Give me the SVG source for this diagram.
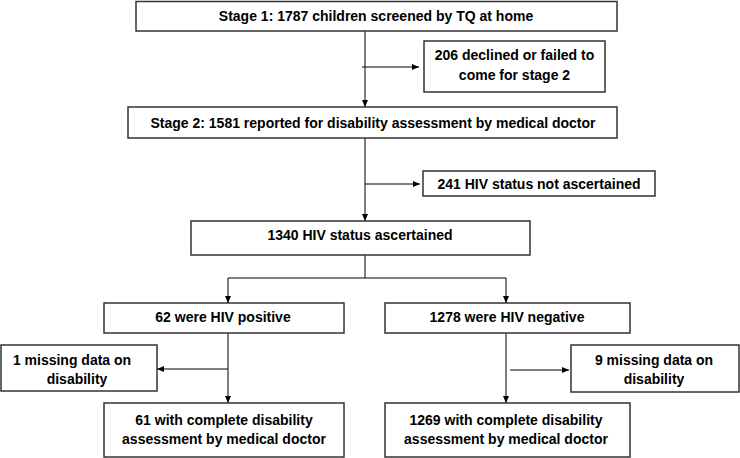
<svg xmlns="http://www.w3.org/2000/svg" width="740" height="458" viewBox="0 0 740 458">
<style>
.box{fill:#fff;stroke:#333;stroke-width:1.5}
.t{font-family:"Liberation Sans",Arial,sans-serif;font-weight:bold;font-size:14px;fill:#000;text-anchor:middle}
.c{fill:none;stroke:#000;stroke-width:1}
</style>
<defs>
<marker id="ah" markerUnits="userSpaceOnUse" markerWidth="7" markerHeight="6" refX="7" refY="3" orient="auto">
<path d="M0,0 L7,3 L0,6 z" fill="#000"/>
</marker>
</defs>
<rect width="740" height="458" fill="#fff"/>
<g id="connectors">
<line class="c" x1="365" y1="31" x2="365" y2="107" marker-end="url(#ah)"/>
<line class="c" x1="362" y1="67" x2="419" y2="67" marker-end="url(#ah)"/>
<line class="c" x1="365" y1="138" x2="365" y2="221" marker-end="url(#ah)"/>
<line class="c" x1="365" y1="184" x2="420" y2="184" marker-end="url(#ah)"/>
<polyline class="c" points="365,255 365,278 228,278 228,303" marker-end="url(#ah)"/>
<polyline class="c" points="365,278 506,278 506,303" marker-end="url(#ah)"/>
<line class="c" x1="228" y1="333" x2="228" y2="403" marker-end="url(#ah)"/>
<line class="c" x1="228" y1="369" x2="157" y2="369" marker-end="url(#ah)"/>
<line class="c" x1="506" y1="333" x2="506" y2="403" marker-end="url(#ah)"/>
<line class="c" x1="510" y1="370" x2="569" y2="370" marker-end="url(#ah)"/>
</g>
<g id="n1"><rect class="box" x="136" y="1.5" width="481" height="29.5"/><text class="t" x="376" y="21">Stage 1: 1787 children screened by TQ at home</text></g>
<g id="n2"><rect class="box" x="424" y="41" width="181" height="51"/><text class="t" x="514.5" y="60">206 declined or failed to</text><text class="t" x="514.5" y="80">come for stage 2</text></g>
<g id="n3"><rect class="box" x="128" y="107" width="489" height="31"/><text class="t" x="373" y="128">Stage 2: 1581 reported for disability assessment by medical doctor</text></g>
<g id="n4"><rect class="box" x="423" y="171" width="232" height="25"/><text class="t" x="539" y="189">241 HIV status not ascertained</text></g>
<g id="n5"><rect class="box" x="191" y="221" width="339" height="34"/><text class="t" x="360" y="240">1340 HIV status ascertained</text></g>
<g id="n6"><rect class="box" x="104" y="303" width="240" height="30"/><text class="t" x="223" y="322">62 were HIV positive</text></g>
<g id="n7"><rect class="box" x="385" y="303" width="245" height="30"/><text class="t" x="507" y="322">1278 were HIV negative</text></g>
<g id="n8"><rect class="box" x="1" y="345" width="156" height="46"/><text class="t" x="72" y="365">1 missing data on</text><text class="t" x="77" y="384">disability</text></g>
<g id="n9"><rect class="box" x="571" y="345" width="168" height="47"/><text class="t" x="654" y="365">9 missing data on</text><text class="t" x="654" y="384">disability</text></g>
<g id="n10"><rect class="box" x="104" y="403" width="240" height="54"/><text class="t" x="224" y="425">61 with complete disability</text><text class="t" x="224" y="444">assessment by medical doctor</text></g>
<g id="n11"><rect class="box" x="385" y="403" width="245" height="54"/><text class="t" x="506" y="425">1269 with complete disability</text><text class="t" x="506" y="444">assessment by medical doctor</text></g>
</svg>
